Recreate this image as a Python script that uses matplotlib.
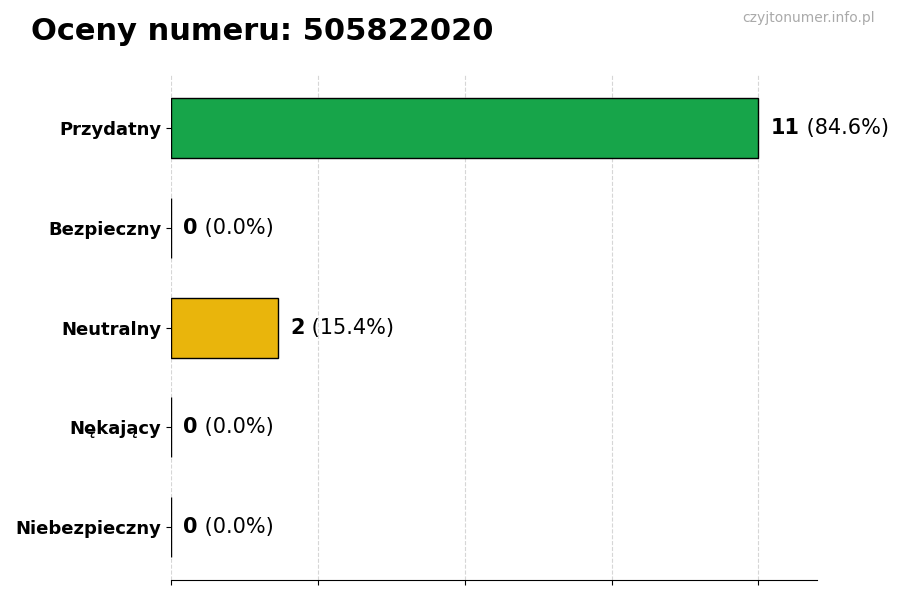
import numpy as np
import matplotlib
matplotlib.use("Agg")
import matplotlib.pyplot as plt

# ratings data
categories = ["Przydatny", "Bezpieczny", "Neutralny", "Nękający", "Niebezpieczny"]
counts = [11, 0, 2, 0, 0]
colors = ["#17a54a", "#2b7bd6", "#e9b50c", "#e8772e", "#d62b2b"]
number = "505822020"

total = sum(counts)
fig = plt.figure(figsize=(9, 6), dpi=100)
ax = fig.add_axes([0.19, 0.033, 0.718, 0.842])

y = np.arange(len(categories))
ax.barh(y, counts, height=0.6, color=colors, edgecolor="black", linewidth=1)
ax.set_yticks(y)
ax.set_yticklabels(categories, fontsize=13, fontweight="bold")
ax.invert_yaxis()

mx = max(counts)
ax.set_xlim(0, mx * 1.1)
ax.set_xticks(np.linspace(0, mx, 5))
ax.set_xticklabels([])
ax.grid(axis="x", linestyle="--", color="#cccccc", linewidth=0.8, alpha=0.8)
ax.set_axisbelow(True)

for s in ["top", "right", "left"]:
    ax.spines[s].set_visible(False)

# value labels: bold count + regular percent
for i, c in enumerate(counts):
    pct = 100.0 * c / total
    t1 = ax.annotate(str(c), xy=(c, i), xytext=(9, 0), textcoords="offset points",
                     va="center", ha="left", fontsize=15, fontweight="bold")
    ax.annotate(" (%.1f%%)" % pct, xy=(1, 0), xycoords=t1, va="bottom", ha="left",
                fontsize=15)

fig.text(0.034, 0.947, "Oceny numeru: " + number, fontsize=22, fontweight="bold",
         va="center", ha="left")
fig.text(0.972, 0.97, "czyjtonumer.info.pl", fontsize=10, color="#aaaaaa",
         va="center", ha="right")

fig.savefig("out.png", dpi=100)
